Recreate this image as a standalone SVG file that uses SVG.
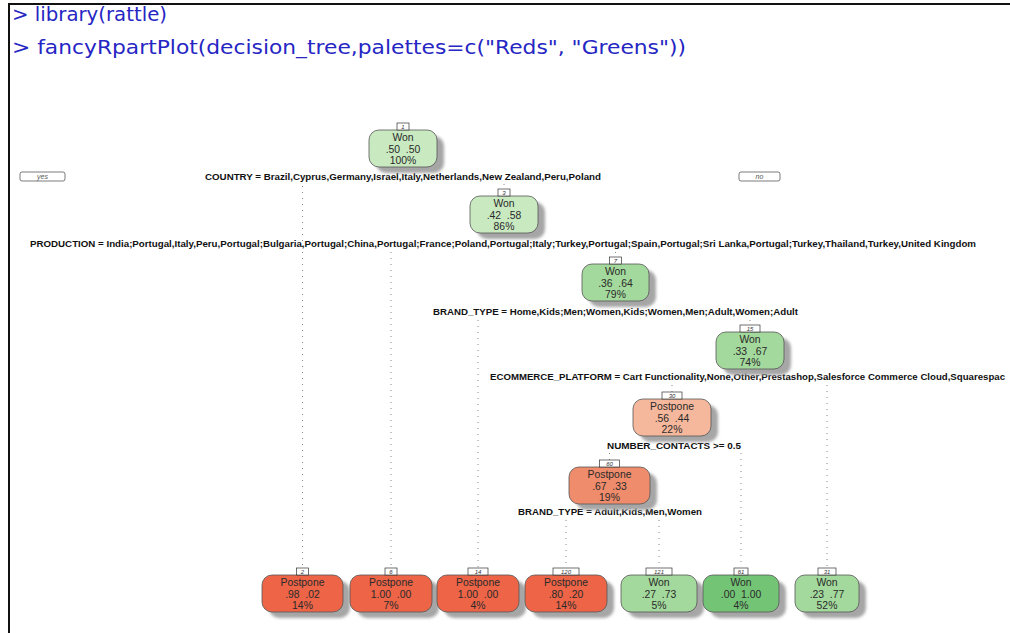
<svg xmlns="http://www.w3.org/2000/svg" width="1010" height="633" viewBox="0 0 1010 633">
<defs>
<filter id="shade" x="-20%" y="-20%" width="150%" height="160%"><feGaussianBlur stdDeviation="1.8"/></filter>
<style>
.code{font-family:"DejaVu Sans",sans-serif;font-size:19.5px;fill:#2626c4}
.box{stroke:#555;stroke-width:0.8}
.shadow{fill:#a6a6a6;filter:url(#shade)}
.t{font-family:"Liberation Sans",Arial,sans-serif;font-size:10.4px;fill:#2a2a2a;text-anchor:middle;white-space:pre}
.id{fill:#fff;stroke:#333;stroke-width:0.7}
.idt{font-family:"Liberation Sans",Arial,sans-serif;font-size:6px;font-style:italic;fill:#333;text-anchor:middle}
.split{font-family:"Liberation Sans",Arial,sans-serif;font-size:9.5px;font-weight:bold;fill:#111;text-anchor:middle}
.dir{fill:#fff;stroke:#444;stroke-width:0.7}
.dirt{font-family:"Liberation Sans",Arial,sans-serif;font-size:7px;font-style:italic;fill:#555;text-anchor:middle}
.edge{stroke:#8a8a8a;stroke-width:1;stroke-dasharray:1 5;fill:none}
.g1{fill:#c9e9c1}
.g2{fill:#a3d99c}
.g3{fill:#74c476}
.r1{fill:#f6b89c}
.r2{fill:#ef8c6c}
.r3{fill:#ed6447}
</style>
</defs>
<rect width="1010" height="633" fill="#fff"/>
<!-- console frame -->
<path d="M9 633 V4 H1010" fill="none" stroke="#111" stroke-width="2"/>
<!-- console commands -->
<text class="code" x="12" y="21" textLength="155" lengthAdjust="spacingAndGlyphs">&gt; library(rattle)</text>
<text class="code" x="12" y="54" textLength="674" lengthAdjust="spacingAndGlyphs">&gt; fancyRpartPlot(decision_tree,palettes=c("Reds", "Greens"))</text>

<!-- branches -->
<g id="connectors">
<path class="edge" d="M302.5 186 V567"/>
<path class="edge" d="M504 184 V189"/>
<path class="edge" d="M391 252 V567"/>
<path class="edge" d="M615.5 252 V257"/>
<path class="edge" d="M478 320 V567"/>
<path class="edge" d="M750 320 V325"/>
<path class="edge" d="M827 385 V567"/>
<path class="edge" d="M672 385 V392"/>
<path class="edge" d="M741 453 V567"/>
<path class="edge" d="M609.5 453 V460"/>
<path class="edge" d="M566 520 V567"/>
<path class="edge" d="M659 520 V567"/>
</g>

<!-- yes / no direction tags -->
<g id="dir-yes"><rect class="dir" x="20" y="172" width="45" height="9" rx="2"/><text class="dirt" x="42.5" y="179">yes</text></g>
<g id="dir-no"><rect class="dir" x="739" y="172" width="41" height="9" rx="2"/><text class="dirt" x="759.5" y="179">no</text></g>

<!-- split labels -->
<g id="splits">
<text class="split" x="403" y="179.5" textLength="396" lengthAdjust="spacingAndGlyphs">COUNTRY = Brazil,Cyprus,Germany,Israel,Italy,Netherlands,New Zealand,Peru,Poland</text>
<text class="split" x="503" y="246.5" textLength="946" lengthAdjust="spacingAndGlyphs">PRODUCTION = India;Portugal,Italy,Peru,Portugal;Bulgaria,Portugal;China,Portugal;France;Poland,Portugal;Italy;Turkey,Portugal;Spain,Portugal;Sri Lanka,Portugal;Turkey,Thailand,Turkey,United Kingdom</text>
<text class="split" x="615.5" y="315" textLength="365" lengthAdjust="spacingAndGlyphs">BRAND_TYPE = Home,Kids;Men;Women,Kids;Women,Men;Adult,Women;Adult</text>
<text class="split" x="490" y="379.5" style="text-anchor:start;font-size:9px" textLength="515" lengthAdjust="spacingAndGlyphs">ECOMMERCE_PLATFORM = Cart Functionality,None,Other,Prestashop,Salesforce Commerce Cloud,Squarespac</text>
<text class="split" x="674" y="449" textLength="134" lengthAdjust="spacingAndGlyphs">NUMBER_CONTACTS &gt;= 0.5</text>
<text class="split" x="610" y="515" textLength="184" lengthAdjust="spacingAndGlyphs">BRAND_TYPE = Adult,Kids,Men,Women</text>
</g>

<!-- internal nodes -->
<g id="node-1">
<rect class="shadow" x="376" y="136" width="68" height="37" rx="10"/>
<rect class="box g1" x="369" y="130" width="68" height="37" rx="10"/>
<rect class="id" x="397" y="123" width="12" height="7"/><text class="idt" x="403" y="129">1</text>
<text class="t" x="403" y="141">Won</text><text class="t" x="403" y="153" xml:space="preserve">.50  .50</text><text class="t" x="403" y="164">100%</text>
</g>
<g id="node-3">
<rect class="shadow" x="477" y="202" width="68" height="37" rx="10"/>
<rect class="box g1" x="470" y="196" width="68" height="37" rx="10"/>
<rect class="id" x="498" y="189" width="12" height="7"/><text class="idt" x="504" y="195">3</text>
<text class="t" x="504" y="207">Won</text><text class="t" x="504" y="219" xml:space="preserve">.42  .58</text><text class="t" x="504" y="230">86%</text>
</g>
<g id="node-7">
<rect class="shadow" x="589" y="270" width="67" height="37" rx="10"/>
<rect class="box g2" x="582" y="264" width="67" height="37" rx="10"/>
<rect class="id" x="609.5" y="257" width="12" height="7"/><text class="idt" x="615.5" y="263">7</text>
<text class="t" x="615.5" y="275">Won</text><text class="t" x="615.5" y="287" xml:space="preserve">.36  .64</text><text class="t" x="615.5" y="298">79%</text>
</g>
<g id="node-15">
<rect class="shadow" x="723" y="338" width="68" height="37" rx="10"/>
<rect class="box g2" x="716" y="332" width="68" height="37" rx="10"/>
<rect class="id" x="740" y="325" width="20" height="7"/><text class="idt" x="750" y="331">15</text>
<text class="t" x="750" y="343">Won</text><text class="t" x="750" y="355" xml:space="preserve">.33  .67</text><text class="t" x="750" y="366">74%</text>
</g>
<g id="node-30">
<rect class="shadow" x="640" y="405" width="78" height="37" rx="10"/>
<rect class="box r1" x="633" y="399" width="78" height="37" rx="10"/>
<rect class="id" x="662" y="392" width="20" height="7"/><text class="idt" x="672" y="398">30</text>
<text class="t" x="672" y="410">Postpone</text><text class="t" x="672" y="422" xml:space="preserve">.56  .44</text><text class="t" x="672" y="433">22%</text>
</g>
<g id="node-60">
<rect class="shadow" x="576" y="473" width="81" height="37" rx="10"/>
<rect class="box r2" x="569" y="467" width="81" height="37" rx="10"/>
<rect class="id" x="599.5" y="460" width="20" height="7"/><text class="idt" x="609.5" y="466">60</text>
<text class="t" x="609.5" y="478">Postpone</text><text class="t" x="609.5" y="490" xml:space="preserve">.67  .33</text><text class="t" x="609.5" y="501">19%</text>
</g>

<!-- leaves -->
<g id="leaf-2">
<rect class="shadow" x="269" y="581" width="81" height="37" rx="10"/>
<rect class="box r3" x="262" y="575" width="81" height="37" rx="10"/>
<rect class="id" x="296.5" y="568" width="12" height="7"/><text class="idt" x="302.5" y="574">2</text>
<text class="t" x="302.5" y="586">Postpone</text><text class="t" x="302.5" y="598" xml:space="preserve">.98  .02</text><text class="t" x="302.5" y="609">14%</text>
</g>
<g id="leaf-6">
<rect class="shadow" x="357" y="581" width="82" height="37" rx="10"/>
<rect class="box r3" x="350" y="575" width="82" height="37" rx="10"/>
<rect class="id" x="385" y="568" width="12" height="7"/><text class="idt" x="391" y="574">6</text>
<text class="t" x="391" y="586">Postpone</text><text class="t" x="391" y="598" xml:space="preserve">1.00  .00</text><text class="t" x="391" y="609">7%</text>
</g>
<g id="leaf-14">
<rect class="shadow" x="444" y="581" width="82" height="37" rx="10"/>
<rect class="box r3" x="437" y="575" width="82" height="37" rx="10"/>
<rect class="id" x="468" y="568" width="20" height="7"/><text class="idt" x="478" y="574">14</text>
<text class="t" x="478" y="586">Postpone</text><text class="t" x="478" y="598" xml:space="preserve">1.00  .00</text><text class="t" x="478" y="609">4%</text>
</g>
<g id="leaf-120">
<rect class="shadow" x="532" y="581" width="82" height="37" rx="10"/>
<rect class="box r3" x="525" y="575" width="82" height="37" rx="10"/>
<rect class="id" x="553" y="568" width="26" height="7"/><text class="idt" x="566" y="574">120</text>
<text class="t" x="566" y="586">Postpone</text><text class="t" x="566" y="598" xml:space="preserve">.80  .20</text><text class="t" x="566" y="609">14%</text>
</g>
<g id="leaf-121">
<rect class="shadow" x="628" y="581" width="76" height="37" rx="10"/>
<rect class="box g2" x="621" y="575" width="76" height="37" rx="10"/>
<rect class="id" x="646" y="568" width="26" height="7"/><text class="idt" x="659" y="574">121</text>
<text class="t" x="659" y="586">Won</text><text class="t" x="659" y="598" xml:space="preserve">.27  .73</text><text class="t" x="659" y="609">5%</text>
</g>
<g id="leaf-61">
<rect class="shadow" x="710" y="581" width="76" height="37" rx="10"/>
<rect class="box g3" x="703" y="575" width="76" height="37" rx="10"/>
<rect class="id" x="734" y="568" width="14" height="7"/><text class="idt" x="741" y="574">61</text>
<text class="t" x="741" y="586">Won</text><text class="t" x="741" y="598" xml:space="preserve">.00  1.00</text><text class="t" x="741" y="609">4%</text>
</g>
<g id="leaf-31">
<rect class="shadow" x="802" y="581" width="64" height="37" rx="10"/>
<rect class="box g2" x="795" y="575" width="64" height="37" rx="10"/>
<rect class="id" x="818" y="568" width="18" height="7"/><text class="idt" x="827" y="574">31</text>
<text class="t" x="827" y="586">Won</text><text class="t" x="827" y="598" xml:space="preserve">.23  .77</text><text class="t" x="827" y="609">52%</text>
</g>
</svg>
